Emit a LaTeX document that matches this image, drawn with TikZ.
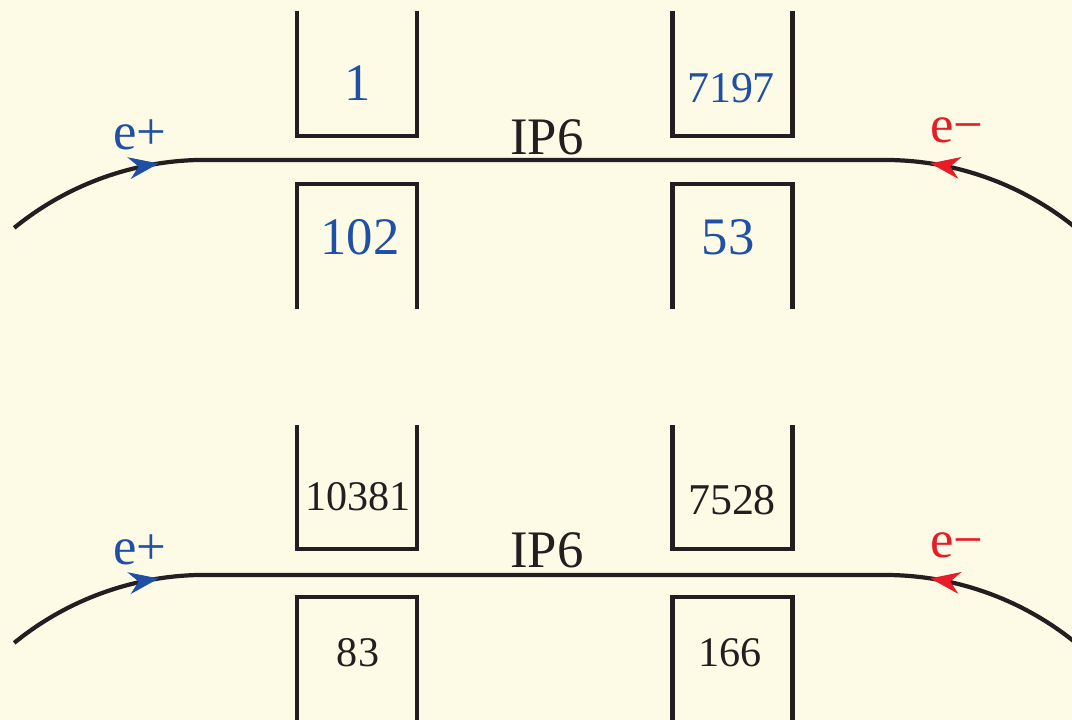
\documentclass[tikz,border=0pt]{standalone}
\usepackage{fontspec}
\setmainfont{Liberation Serif}
\usetikzlibrary{arrows.meta, decorations.markings}

\definecolor{bgcream}{RGB}{253,251,230}
\definecolor{inkblack}{RGB}{35,31,32}
\definecolor{eblue}{RGB}{32,80,165}
\definecolor{ered}{RGB}{232,28,38}

\begin{document}
\begin{tikzpicture}[
    wall/.style={draw=inkblack, line width=1.2pt},
    slot/.style={rectangle, minimum width=1.185cm, minimum height=1.23cm, inner sep=0pt},
    numlabel/.style={font=\fontsize{15}{15}\selectfont, text=eblue},
    smalllabel/.style={font=\fontsize{12.5}{12.5}\selectfont, text=inkblack},
    iplabel/.style={font=\fontsize{15}{15}\selectfont, text=inkblack},
    beamlabel/.style={font=\fontsize{15}{15}\selectfont},
    beam/.style={draw=inkblack, line width=1.2pt, postaction={decorate},
        decoration={markings,
            mark=at position 1.60cm with {\arrow[eblue]{Stealth[length=3mm, width=2.2mm, line width=0.3pt]}},
            mark=at position 9.32cm with {\arrowreversed[ered]{Stealth[length=3mm, width=2.2mm, line width=0.3pt]}}}}
]

% 0. Canvas
\fill[bgcream] (0,0) rectangle (10.72,7.2);
\useasboundingbox (0,0) rectangle (10.72,7.2);
\clip (0,0) rectangle (10.72,7.2);

% 1. Upper ring
\coordinate (ringA-in) at (0.142,4.921);
\coordinate (ringA-r) at (8.85,5.60);
\draw[beam] (ringA-in) arc[start angle=129.2, end angle=90, radius=3.02] -- (ringA-r) arc[start angle=90, end angle=50, radius=3.02];

\node[beamlabel, text=eblue] (epA) at (1.40,5.85) {e+};
\node[beamlabel, text=ered] (emA) at (9.57,5.90) {e−};
\node[iplabel] (ipA) at (5.47,5.83) {IP6};

% 2. Upper ring slots
\node[slot] (slotA1) at (3.57,6.465) {};
\node[slot] (slotA2) at (7.325,6.465) {};
\node[slot] (slotA3) at (3.57,4.735) {};
\node[slot] (slotA4) at (7.325,4.735) {};

\draw[wall] (slotA1.north west) |- (slotA1.south east) -- (slotA1.north east);
\draw[wall] (slotA2.north west) |- (slotA2.south east) -- (slotA2.north east);
\draw[wall] (slotA3.south west) |- (slotA3.north east) -- (slotA3.south east);
\draw[wall] (slotA4.south west) |- (slotA4.north east) -- (slotA4.south east);

\node[numlabel] (numA1) at (3.58,6.37) {1};
\node[numlabel, font=\fontsize{12.5}{12.5}\selectfont] (numA2) at (7.31,6.32) {7197};
\node[numlabel] (numA3) at (3.60,4.83) {102};
\node[numlabel] (numA4) at (7.28,4.83) {53};

% 3. Lower ring
\coordinate (ringB-in) at (0.142,0.771);
\coordinate (ringB-r) at (8.85,1.45);
\draw[beam] (ringB-in) arc[start angle=129.2, end angle=90, radius=3.02] -- (ringB-r) arc[start angle=90, end angle=50, radius=3.02];

\node[beamlabel, text=eblue] (epB) at (1.40,1.70) {e+};
\node[beamlabel, text=ered] (emB) at (9.57,1.75) {e−};
\node[iplabel] (ipB) at (5.47,1.70) {IP6};

% 4. Lower ring slots
\node[slot] (slotB1) at (3.57,2.33) {};
\node[slot] (slotB2) at (7.325,2.33) {};
\node[slot, minimum height=1.30cm] (slotB3) at (3.57,0.57) {};
\node[slot, minimum height=1.30cm] (slotB4) at (7.325,0.57) {};

\draw[wall] (slotB1.north west) |- (slotB1.south east) -- (slotB1.north east);
\draw[wall] (slotB2.north west) |- (slotB2.south east) -- (slotB2.north east);
\draw[wall] (slotB3.south west) |- (slotB3.north east) -- (slotB3.south east);
\draw[wall] (slotB4.south west) |- (slotB4.north east) -- (slotB4.south east);

\node[smalllabel, font=\fontsize{12}{12}\selectfont] (numB1) at (3.58,2.23) {10381};
\node[smalllabel] (numB2) at (7.32,2.20) {7528};
\node[smalllabel, font=\fontsize{12}{12}\selectfont] (numB3) at (3.58,0.67) {83};
\node[smalllabel, font=\fontsize{12}{12}\selectfont] (numB4) at (7.30,0.67) {166};

\end{tikzpicture}
\end{document}
